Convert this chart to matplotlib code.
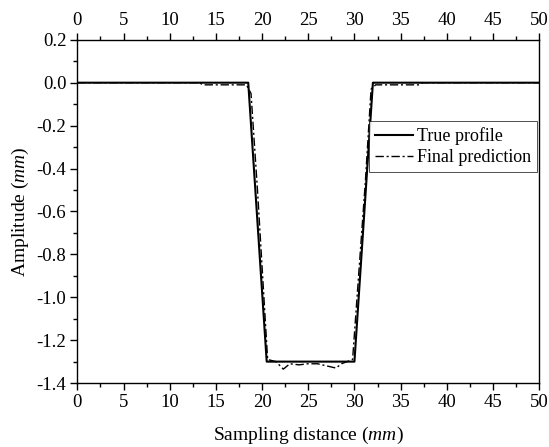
import matplotlib
matplotlib.use("Agg")
import matplotlib.pyplot as plt
from matplotlib.ticker import MultipleLocator

plt.rcParams["font.family"] = ["Liberation Serif", "DejaVu Serif"]
plt.rcParams["mathtext.fontset"] = "custom"
plt.rcParams["mathtext.it"] = "Liberation Serif:italic"
plt.rcParams["mathtext.rm"] = "Liberation Serif"

# True profile (sampling distance in mm, amplitude in mm)
true_x = [0, 18.5, 20.5, 30.0, 32.0, 50]
true_y = [0.0, 0.0, -1.30, -1.30, 0.0, 0.0]

# Final prediction
pred_x = [0, 13.2, 13.6, 18.3, 18.8, 19.5, 20.6, 21.5, 22.3, 23.0, 24.0,
          25.0, 26.0, 27.0, 28.0, 28.6, 29.8, 31.2, 31.8, 32.3, 37.0, 37.4, 50]
pred_y = [0.0, 0.0, -0.01, -0.01, -0.05, -0.5, -1.29, -1.30, -1.335, -1.31,
          -1.315, -1.31, -1.31, -1.32, -1.33, -1.31, -1.29, -0.45, -0.03,
          -0.01, -0.01, 0.0, 0.0]

fig = plt.figure(figsize=(5.49, 4.47), dpi=100)
ax = fig.add_axes([0.141, 0.143, 0.841, 0.768])

ax.plot(true_x, true_y, color="black", linewidth=1.5, label="True profile")
ax.plot(pred_x, pred_y, color="black", linewidth=1.0,
        dashes=(6, 2, 1.5, 2), label="Final prediction")

ax.set_xlim(0, 50)
ax.set_ylim(-1.4, 0.2)
ax.xaxis.set_major_locator(MultipleLocator(5))
ax.xaxis.set_minor_locator(MultipleLocator(2.5))
ax.yaxis.set_major_locator(MultipleLocator(0.2))
ax.yaxis.set_minor_locator(MultipleLocator(0.1))
ax.yaxis.set_major_formatter(plt.FuncFormatter(lambda v, p: f"{v:.1f}"))

ax.tick_params(axis="x", which="both", direction="out", top=True, labeltop=True,
               labelsize=13.5, width=1.0)
ax.tick_params(axis="y", which="both", direction="out", right=False,
               labelsize=13.5, width=1.0)
ax.tick_params(which="major", length=5, pad=3)
ax.tick_params(which="minor", length=3)
for spine in ax.spines.values():
    spine.set_linewidth(1.0)

ax.set_xlabel(r"Sampling distance ($\it{mm}$)", fontsize=14, labelpad=10)
ax.set_ylabel(r"Amplitude ($\it{mm}$)", fontsize=14, labelpad=4)

leg = ax.legend(loc="upper right", bbox_to_anchor=(0.996, 0.763), fontsize=13,
                frameon=True, fancybox=False, edgecolor="black",
                handlelength=2.1, handletextpad=0.2, borderpad=0.35,
                labelspacing=0.2, borderaxespad=0)
leg.get_frame().set_linewidth(0.6)

fig.savefig("out.png", dpi=100)
